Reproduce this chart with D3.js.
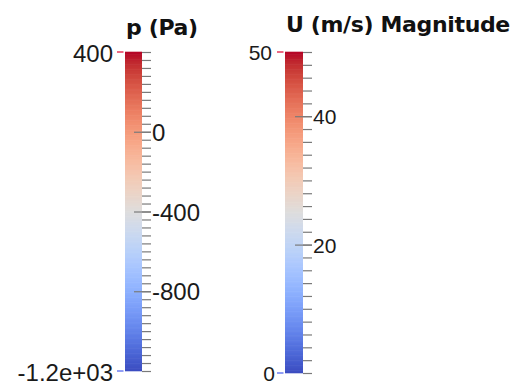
<!DOCTYPE html>
<html><head><meta charset="utf-8">
<script src="https://cdn.jsdelivr.net/npm/d3@7"></script>
<style>
html,body{margin:0;padding:0;background:#fff;}
svg{display:block;}
</style></head>
<body>
<svg id="chart" width="515" height="385"></svg>
<script>
// ---- data ----
const pTitle = "p (Pa)";
const pRange = [-1200, 400];
const pRangeLabels = ["-1.2e+03", "400"];
const pMajorTicks = [0, -400, -800];
const pMajorLabels = ["0", "-400", "-800"];
const pMinorStep = 40;

const uTitle = "U (m/s) Magnitude";
const uRange = [0, 50];
const uRangeLabels = ["0", "50"];
const uMajorTicks = [20, 40];
const uMajorLabels = ["20", "40"];
const uMinorStep = 2;

// Cool-to-warm colormap stops (position 0..1, r, g, b)
const cmapPos = [0,0.03125,0.0625,0.09375,0.125,0.15625,0.1875,0.21875,0.25,0.28125,0.3125,0.34375,0.375,0.40625,0.4375,0.46875,0.5,0.53125,0.5625,0.59375,0.625,0.65625,0.6875,0.71875,0.75,0.78125,0.8125,0.84375,0.875,0.90625,0.9375,0.96875,1];
const cmapRGB = [[59,76,192],[68,90,204],[77,104,215],[87,117,225],[98,130,234],[108,142,241],[119,154,247],[130,165,251],[141,176,254],[152,185,255],[163,194,255],[174,201,253],[184,208,249],[194,213,244],[204,217,238],[213,219,230],[221,221,221],[229,216,209],[236,211,197],[241,204,185],[245,196,173],[247,187,160],[247,177,148],[247,166,135],[244,154,123],[241,141,111],[236,127,99],[229,112,88],[222,96,77],[213,80,66],[203,62,56],[192,40,47],[180,4,38]];
const nBands = 256;

// ---- drawing ----
const svg = d3.select("#chart");
const cmap = d3.scaleLinear().domain(cmapPos).range(cmapRGB.map(c => d3.rgb(c[0], c[1], c[2]))).interpolate(d3.interpolateRgb);
const labelFont = "Liberation Sans";

function range(a, b, step) {
  const out = [];
  const n = Math.round((b - a) / step);
  for (let i = 0; i <= n; i++) out.push(a + i * step);
  return out;
}

function colorBar(cfg) {
  const g = svg.append("g");
  const y = d3.scaleLinear().domain(cfg.range).range([cfg.bottom, cfg.top]);
  const t = d3.scaleLinear().domain(cfg.range).range([0, 1]);
  // bands
  const bands = d3.range(nBands);
  const bh = (cfg.bottom - cfg.top) / nBands;
  g.append("g").selectAll("rect").data(bands).join("rect")
    .attr("x", cfg.x).attr("width", cfg.w)
    .attr("y", i => cfg.bottom - (i + 1) * bh - 0.3)
    .attr("height", bh + 0.6)
    .attr("fill", i => cmap((i + 0.5) / nBands));
  // minor ticks
  const minor = range(cfg.range[0], cfg.range[1], cfg.minorStep);
  const minorAxis = g.append("g").attr("transform", `translate(${cfg.x + cfg.w},0)`)
    .call(d3.axisRight(y).tickValues(minor).tickSize(9).tickFormat(""));
  minorAxis.select(".domain").remove();
  minorAxis.selectAll("line").attr("stroke", "#7a7a7a").attr("stroke-width", 1.2);
  // major ticks
  const majorAxis = g.append("g").attr("transform", `translate(${cfg.x + cfg.w - 8},0)`)
    .call(d3.axisRight(y).tickValues(cfg.major).tickSize(17).tickPadding(1)
      .tickFormat((d, i) => cfg.majorLabels[i]));
  majorAxis.select(".domain").remove();
  majorAxis.selectAll("line").attr("stroke", "#7a7a7a").attr("stroke-width", 1.2);
  majorAxis.selectAll("text").attr("font-family", labelFont)
    .attr("font-size", cfg.fs).attr("fill", "#1a1a1a").attr("dy", "0.36em");
  // range ticks and labels
  [0, 1].forEach(k => {
    const v = cfg.range[k];
    const yy = y(v);
    g.append("line").attr("x1", cfg.x - 8).attr("x2", cfg.x - 1.5)
      .attr("y1", yy).attr("y2", yy)
      .attr("stroke", d3.rgb(cmap(t(v))).brighter(0.6)).attr("stroke-width", 1.2);
    g.append("text").attr("x", cfg.x - 12 + (cfg.labelDx ? cfg.labelDx[k] : 0))
      .attr("y", yy + cfg.rangeDy[k])
      .attr("text-anchor", "end")
      .attr("font-family", labelFont)
      .attr("font-size", cfg.fs).attr("fill", "#1a1a1a")
      .text(cfg.rangeLabels[k]);
  });
  // title
  g.append("text").attr("x", cfg.titleX).attr("y", cfg.titleY)
    .attr("font-family", "DejaVu Sans").attr("font-weight", "bold")
    .attr("font-size", 22).attr("letter-spacing", -0.35).attr("fill", "#111")
    .text(cfg.title);
}

colorBar({
  range: pRange, rangeLabels: pRangeLabels, major: pMajorTicks, majorLabels: pMajorLabels,
  minorStep: pMinorStep, x: 125, w: 17, top: 52, bottom: 371, fs: 24,
  rangeDy: [10, 10], labelDx: [0, 0], title: pTitle, titleX: 126, titleY: 35
});
colorBar({
  range: uRange, rangeLabels: uRangeLabels, major: uMajorTicks, majorLabels: uMajorLabels,
  minorStep: uMinorStep, x: 285, w: 18, top: 52, bottom: 373, fs: 21,
  rangeDy: [8, 8], labelDx: [2, -1], title: uTitle, titleX: 286, titleY: 32
});
</script>
</body></html>
